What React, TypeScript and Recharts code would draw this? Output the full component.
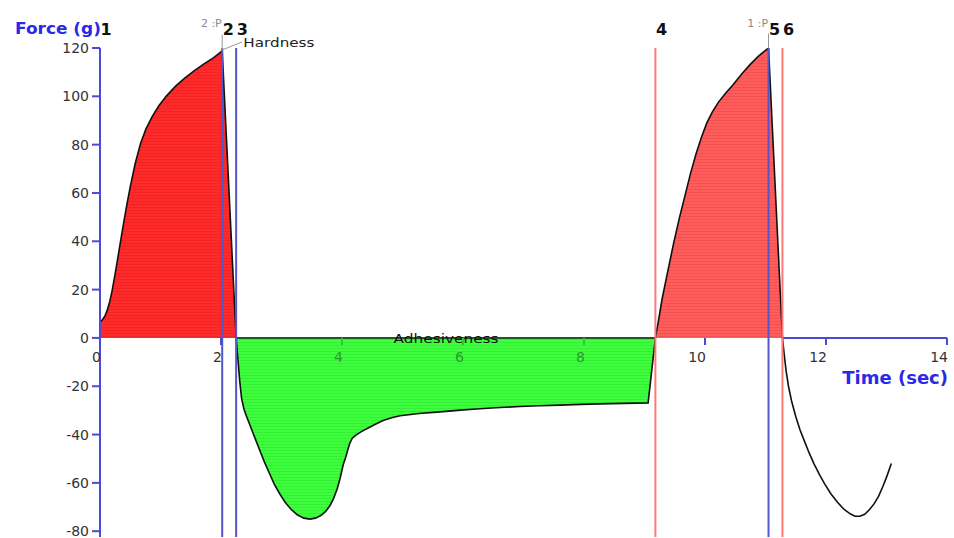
import React from 'react';
import { ComposedChart, Area, Line, XAxis, YAxis, ReferenceLine, ReferenceDot } from 'recharts';

// ---- data (time in s, force in g) ----
const compression1Time = [0, 0.04, 0.08, 0.12, 0.16, 0.2, 0.25, 0.3, 0.35, 0.4, 0.45, 0.5, 0.58, 0.67, 0.76, 0.86, 0.97, 1.1, 1.25, 1.4, 1.56, 1.72, 1.88, 2.02, 2.25];
const compression1Force = [6.5, 7.5, 9, 11.5, 15, 19.5, 26.5, 34, 41.5, 49, 56, 62.5, 72, 80.5, 86.5, 91.5, 96, 100.2, 104.2, 107.5, 110.6, 113.4, 116, 118.8, 0];

const adhesionTime = [2.25, 2.28, 2.31, 2.34, 2.38, 2.43, 2.5, 2.57, 2.64, 2.72, 2.8, 2.88, 2.97, 3.06, 3.16, 3.26, 3.37, 3.47, 3.56, 3.65, 3.73, 3.8, 3.86, 3.92, 3.97, 4.02, 4.06, 4.1, 4.13, 4.17, 4.23, 4.32, 4.44, 4.56, 4.68, 4.82, 4.96, 5.27, 5.62, 5.96, 6.28, 6.61, 6.94, 7.26, 7.6, 7.95, 8.26, 8.65, 9.06, 9.18];
const adhesionForce = [0, -9, -18, -25, -29.5, -33, -37.5, -42, -46.5, -51.5, -56, -60.5, -64.5, -68, -71, -73.2, -74.6, -75, -74.6, -73.5, -71.8, -69.5, -66.5, -62.5, -58, -52.5, -49.5, -46, -43.5, -41.5, -40.2, -38.8, -37.2, -35.6, -34.2, -33, -32.2, -31.3, -30.6, -29.9, -29.3, -28.8, -28.4, -28.1, -27.8, -27.5, -27.3, -27.1, -26.9, 0];

const compression2Time = [9.18, 9.23, 9.29, 9.38, 9.48, 9.58, 9.67, 9.76, 9.85, 9.94, 10.03, 10.12, 10.22, 10.34, 10.46, 10.6, 10.74, 10.88, 11.0, 11.05, 11.28];
const compression2Force = [0, 7, 16, 27, 39, 50, 59, 68, 76, 83, 89, 93.5, 97.5, 101.3, 104.7, 109, 113, 116.5, 119, 120, 0];

const tailTime = [11.28, 11.31, 11.34, 11.38, 11.43, 11.5, 11.57, 11.64, 11.72, 11.8, 11.89, 11.98, 12.08, 12.19, 12.3, 12.4, 12.48, 12.56, 12.64, 12.72, 12.8, 12.87, 12.94, 13.01, 13.08];
const tailForce = [0, -7, -13.5, -20, -26, -32.5, -38, -42.5, -47.5, -52, -56.5, -60.5, -64.5, -68, -71, -72.8, -73.8, -73.8, -73, -71, -68.5, -65.5, -61.5, -57, -52];

const xTicks = [0, 2, 4, 6, 8, 10, 12, 14];
const yTicks = [-80, -60, -40, -20, 0, 20, 40, 60, 80, 100, 120];

const markerTimes = [0, 2.02, 2.25, 9.18, 11.05, 11.28];
const markerLabels = ['1', '2', '3', '4', '5', '6'];
const markerKinds = ['none', 'blue', 'blue', 'red', 'blue', 'red'];

// ---- layout ----
const CW = 954;
const CH = 538;
const M_TOP = 48;
const M_RIGHT = 7;
const Y_AXIS_W = 100;
const X_AXIS_H = 1;
const Y_MIN = -82.4;
const Y_MAX = 120;
const X_MAX = 14;
const PLOT_H = CH - M_TOP - X_AXIS_H;
const ZERO_SHIFT = (PLOT_H * (0 - Y_MIN)) / (Y_MAX - Y_MIN);

const FONT = '"DejaVu Sans", Verdana, sans-serif';
const AXIS_BLUE = '#4a4ad6';
const LINE_BLUE = '#5555c8';
const LINE_RED = '#ff7878';
const TITLE_BLUE = '#2a2ae6';
const UNDER_GREEN_TEXT = '#2f9a2f';
const UNDER_GREEN_TICK = '#3cbf3c';

const adhesionStart = adhesionTime[0];
const adhesionEnd = adhesionTime[adhesionTime.length - 1];
const tailStart = tailTime[0];

// ---- build table ----
type Row = { t: number; force: number; red1?: number | null; green?: number | null; red2?: number | null };
const rowMap = new Map<number, Row>();
const addSeg = (ts: number[], fs: number[], key?: 'red1' | 'green' | 'red2') => {
  ts.forEach((t, i) => {
    let r = rowMap.get(t);
    if (!r) {
      r = { t, force: fs[i], red1: null, green: null, red2: null };
      rowMap.set(t, r);
    }
    if (key) r[key] = fs[i];
  });
};
addSeg(compression1Time, compression1Force, 'red1');
addSeg(adhesionTime, adhesionForce, 'green');
addSeg(compression2Time, compression2Force, 'red2');
addSeg(tailTime, tailForce);
const data = Array.from(rowMap.values()).sort((a, b) => a.t - b.t);

// ---- small renderers ----
const XTick = (props: any) => {
  const { x, y, payload } = props;
  const zy = y - ZERO_SHIFT;
  const under = payload.value > adhesionStart && payload.value < adhesionEnd;
  return (
    <g>
      <line x1={x} x2={x} y1={zy} y2={zy + 7} stroke={under ? UNDER_GREEN_TICK : AXIS_BLUE} strokeWidth={2} />
      <text x={x + 1} y={zy + 24} textAnchor="end" fontSize={14} fill={under ? UNDER_GREEN_TEXT : '#333'} fontFamily={FONT}>
        {payload.value}
      </text>
    </g>
  );
};

const MarkerLabel = (props: any) => {
  const { viewBox, text } = props;
  return (
    <text x={viewBox.x + 0.5} y={35} fontSize={16} fontWeight="bold" fill="#111" fontFamily={FONT}>
      {text}
    </text>
  );
};

const DotText = (props: any) => {
  const { viewBox, text, dx = 0, dy = 0, size = 12, color = '#222', anchor = 'start', len } = props;
  const cx = viewBox.x + (viewBox.width || 0) / 2;
  const cy = viewBox.y + (viewBox.height || 0) / 2;
  return (
    <text
      x={cx + dx}
      y={cy + dy}
      textAnchor={anchor}
      fontSize={size}
      fill={color}
      fontFamily={FONT}
      textLength={len}
      lengthAdjust={len ? 'spacingAndGlyphs' : undefined}
    >
      {text}
    </text>
  );
};

const ForceTitle = (props: any) => {
  const { viewBox } = props;
  return (
    <text x={viewBox.x + 15} y={viewBox.y - 14} fontSize={16} fontWeight="bold" fill={TITLE_BLUE} fontFamily={FONT} textLength={86} lengthAdjust="spacingAndGlyphs">
      Force (g)
    </text>
  );
};

const TimeTitle = (props: any) => {
  const { viewBox } = props;
  return (
    <text x={viewBox.x + viewBox.width + 1} y={viewBox.y + 46} textAnchor="end" fontSize={18} fontWeight="bold" fill={TITLE_BLUE} fontFamily={FONT}>
      Time (sec)
    </text>
  );
};

export default function App() {
  return (
    <div style={{ position: 'absolute', left: 0, top: 0, width: CW, height: CH, background: '#fff' }}>
      <ComposedChart width={CW} height={CH} data={data} margin={{ top: M_TOP, right: M_RIGHT, bottom: 0, left: 0 }}>
        <defs>
          <pattern id="pRed1" width="8" height="3" patternUnits="userSpaceOnUse">
            <rect width="8" height="3" fill="#ff2a2a" />
            <rect width="8" height="1" fill="#f02424" />
          </pattern>
          <pattern id="pRed2" width="8" height="3" patternUnits="userSpaceOnUse">
            <rect width="8" height="3" fill="#ff5c5c" />
            <rect width="8" height="1" fill="#f45252" />
          </pattern>
          <pattern id="pGreen" width="8" height="3" patternUnits="userSpaceOnUse">
            <rect width="8" height="3" fill="#3eff3e" />
            <rect width="8" height="1" fill="#36ee36" />
          </pattern>
        </defs>
        <XAxis
          dataKey="t"
          type="number"
          domain={[0, X_MAX]}
          ticks={xTicks}
          interval={0}
          height={X_AXIS_H}
          axisLine={false}
          tickLine={false}
          tickSize={0}
          tickMargin={0}
          tick={<XTick />}
          allowDataOverflow
        />
        <YAxis
          type="number"
          domain={[Y_MIN, Y_MAX]}
          ticks={yTicks}
          interval={0}
          width={Y_AXIS_W}
          axisLine={{ stroke: AXIS_BLUE, strokeWidth: 2 }}
          tickLine={{ stroke: AXIS_BLUE, strokeWidth: 2 }}
          tickSize={8}
          tickMargin={3}
          tick={{ fontSize: 14, fill: '#333', fontFamily: FONT }}
          allowDataOverflow
          label={<ForceTitle />}
        />
        <ReferenceLine y={0} stroke="none" label={<TimeTitle />} />
        <Area type="linear" dataKey="red1" stroke="none" fill="url(#pRed1)" fillOpacity={1} isAnimationActive={false} connectNulls={false} />
        <Area type="linear" dataKey="green" stroke="none" fill="url(#pGreen)" fillOpacity={1} isAnimationActive={false} connectNulls={false} />
        <Area type="linear" dataKey="red2" stroke="none" fill="url(#pRed2)" fillOpacity={1} isAnimationActive={false} connectNulls={false} />
        <ReferenceLine segment={[{ x: tailStart, y: 0 }, { x: X_MAX, y: 0 }]} stroke={AXIS_BLUE} strokeWidth={2} />
        <ReferenceLine segment={[{ x: adhesionStart, y: 0 }, { x: adhesionEnd, y: 0 }]} stroke="#1e5a1e" strokeWidth={2} />
        <Line type="linear" dataKey="force" stroke="#111" strokeWidth={1.6} dot={false} activeDot={false} isAnimationActive={false} />
        {markerTimes.map((t, i) => (
          <ReferenceLine
            key={'m' + i}
            x={t}
            stroke={markerKinds[i] === 'blue' ? LINE_BLUE : markerKinds[i] === 'red' ? LINE_RED : 'none'}
            strokeWidth={2}
            label={<MarkerLabel text={markerLabels[i]} />}
          />
        ))}
        <ReferenceLine segment={[{ x: 2.02, y: 119.5 }, { x: 2.02, y: 125.5 }]} stroke="#999" strokeWidth={1} ifOverflow="visible" />
        <ReferenceLine segment={[{ x: 2.02, y: 119.2 }, { x: 2.35, y: 122.5 }]} stroke="#999" strokeWidth={1} ifOverflow="visible" />
        <ReferenceLine segment={[{ x: 11.05, y: 120 }, { x: 11.05, y: 126 }]} stroke="#999" strokeWidth={1} ifOverflow="visible" />
        <ReferenceDot x={1.84} y={130.4} r={1} fill="none" stroke="none" ifOverflow="visible" label={<DotText text="2 :P" size={11} color="#8a8a8a" anchor="middle" dy={4} />} />
        <ReferenceDot x={10.87} y={130.4} r={1} fill="none" stroke="none" ifOverflow="visible" label={<DotText text="1 :P" size={11} color="#8a8a8a" anchor="middle" dy={4} />} />
        <ReferenceDot x={2.37} y={122} r={1} fill="none" stroke="none" ifOverflow="visible" label={<DotText text="Hardness" size={12.5} color="#222" dy={4} len={71} />} />
        <ReferenceDot x={5.72} y={0} r={1} fill="none" stroke="none" ifOverflow="visible" label={<DotText text="Adhesiveness" size={13} color="#111" anchor="middle" dy={5} len={105} />} />
      </ComposedChart>
    </div>
  );
}
